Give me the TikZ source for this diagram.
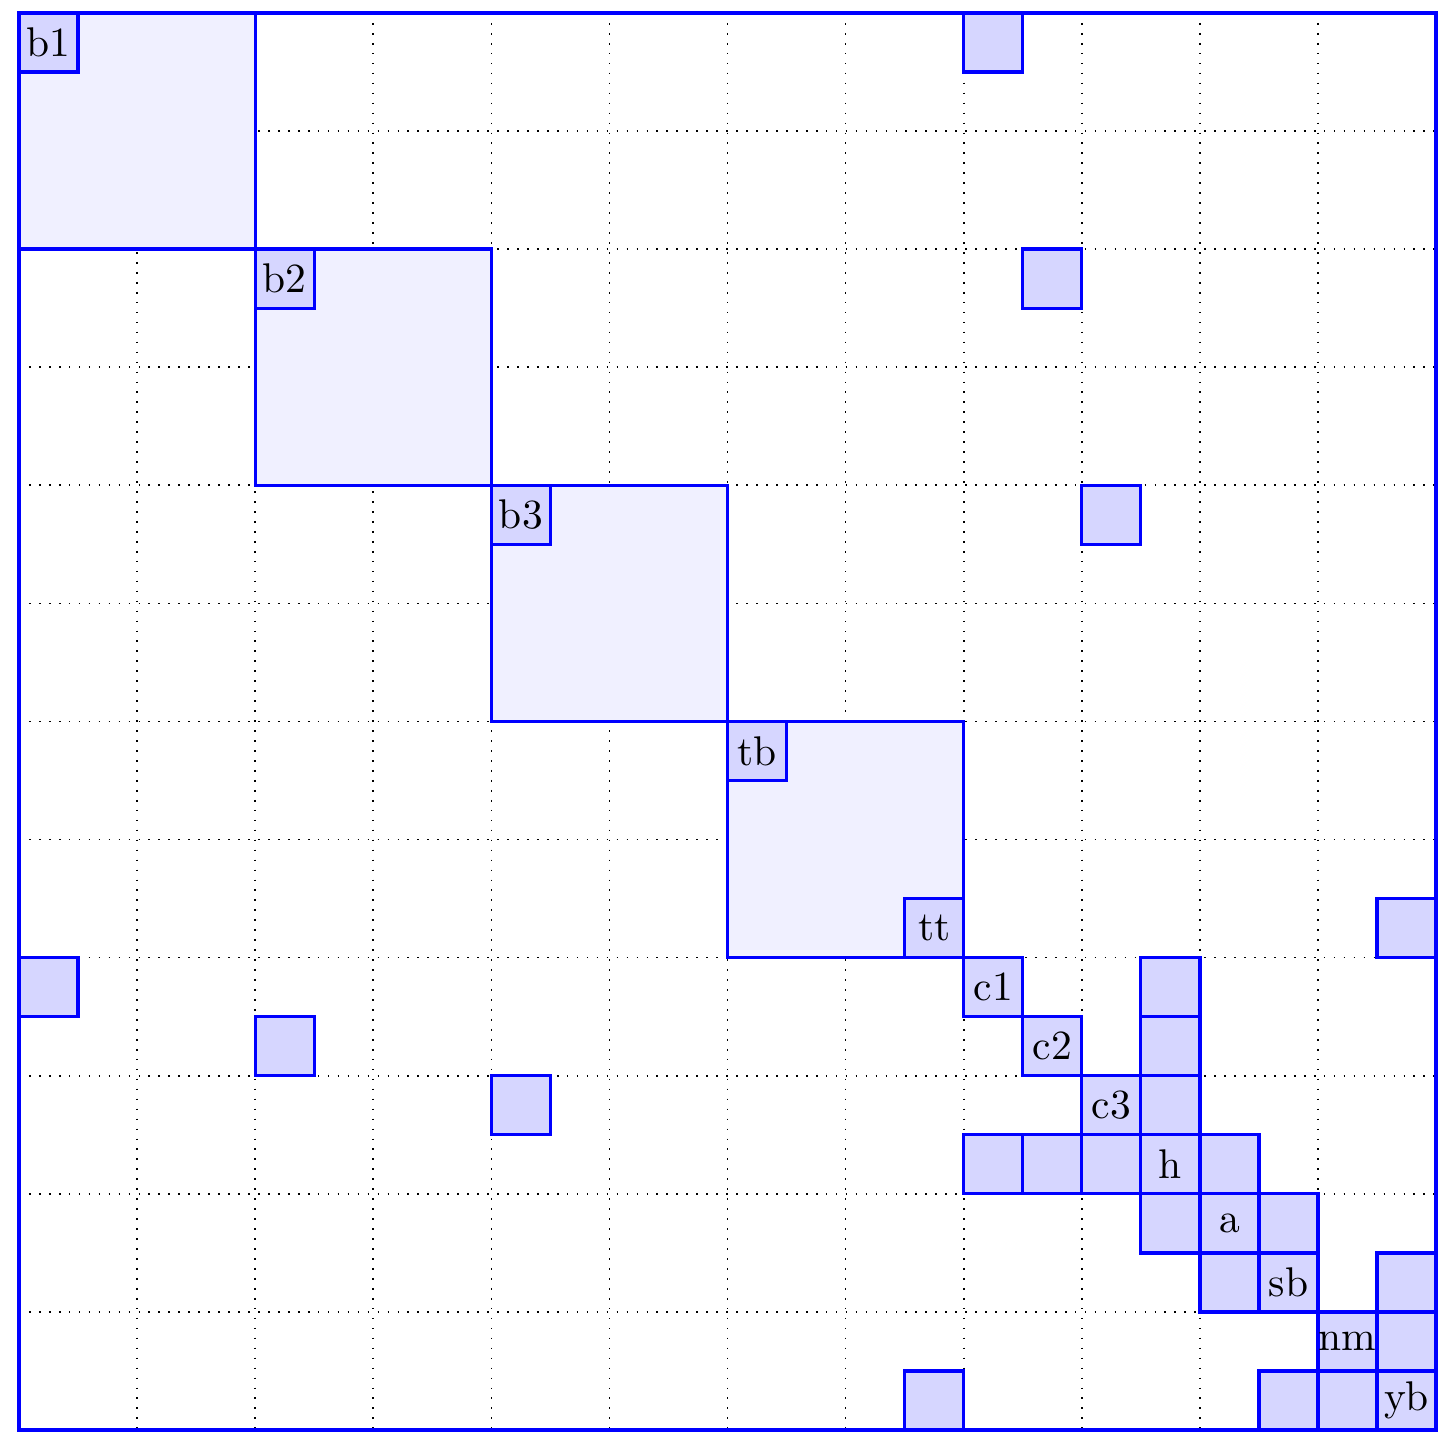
\documentclass[tikz,border=0pt]{standalone}
\usepackage{tikz}
\usetikzlibrary{positioning}

\begin{document}
\begin{tikzpicture}[x=5mm,y=-5mm,node distance=0pt,
  blk/.style={draw=blue,thick,fill=blue!6,minimum size=20mm,inner sep=0pt,outer sep=0pt},
  cell/.style={draw=blue,thick,fill=blue!16,minimum size=5mm,inner sep=0pt,outer sep=0pt},
  gridln/.style={dotted,black}]
  \useasboundingbox (-0.322,-0.22) rectangle (24.322,24.27);
  % dotted grid every two cells
  \foreach \i in {2,4,...,22} {
    \draw[gridln] (\i,0) -- (\i,24);
    \draw[gridln] (0,\i) -- (24,\i);
  }
  % diagonal blocks
  \node[blk,anchor=north west] (bk1) at (0,0) {};
  \node[blk,below right=of bk1] (bk2) {};
  \node[blk,below right=of bk2] (bk3) {};
  \node[blk,below right=of bk3] (bk4) {};
  % labelled cells
  \node[cell,anchor=north west] (b1) at (bk1.north west) {b1};
  \node[cell,anchor=north west] (b2) at (bk2.north west) {b2};
  \node[cell,anchor=north west] (b3) at (bk3.north west) {b3};
  \node[cell,anchor=north west] (tb) at (bk4.north west) {tb};
  \node[cell,anchor=south east] (tt) at (bk4.south east) {tt};
  \node[cell,below right=of tt] (c1) {c1};
  \node[cell,below right=of c1] (c2) {c2};
  \node[cell,below right=of c2] (c3) {c3};
  \node[cell,below right=of c3] (h) {h};
  \node[cell,below right=of h] (a) {a};
  \node[cell,below right=of a] (sb) {sb};
  \node[cell,below right=of sb] (nm) {nm};
  \node[cell,below right=of nm] (yb) {yb};
  % off-diagonal entries (column/row)
  \foreach \c/\r in {16/0,17/4,18/8,23/15,0/16,19/16,4/17,19/17,8/18,19/18,
      16/19,17/19,18/19,20/19,19/20,21/20,20/21,23/21,23/22,15/23,21/23,22/23}
    \node[cell] (e\c-\r) at (\c+.5,\r+.5) {};
  % frame
  \draw[blue,thick] (0,0) rectangle (24,24);
\end{tikzpicture}
\end{document}
